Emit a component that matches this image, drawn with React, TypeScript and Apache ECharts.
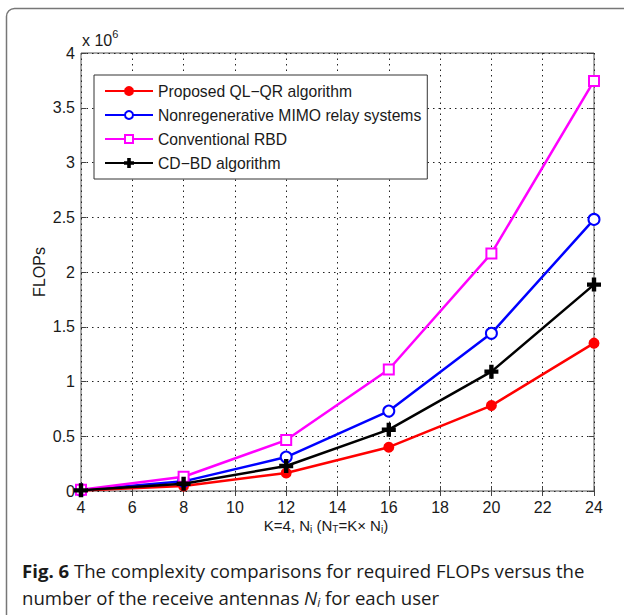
import React, { useEffect, useRef } from "react";
import * as echarts from "echarts";

const nValues = [4, 8, 12, 16, 20, 24];
const qlqr = [0.004, 0.045, 0.165, 0.4, 0.78, 1.35];
const nonregen = [0.008, 0.088, 0.31, 0.73, 1.44, 2.48];
const rbd = [0.012, 0.13, 0.465, 1.11, 2.17, 3.745];
const cdbd = [0.006, 0.066, 0.228, 0.56, 1.09, 1.885];
const seriesNames = [
  "Proposed QL\u2212QR algorithm",
  "Nonregenerative MIMO relay systems",
  "Conventional RBD",
  "CD\u2212BD algorithm",
];
const xTicks = { min: 4, max: 24, interval: 2 };
const yTicks = { min: 0, max: 4, interval: 0.5 };

const FONT = "'Liberation Sans', Arial, sans-serif";
const CAP_FONT = "'Open Sans', 'Noto Sans', sans-serif";
const PLUS =
  "path://M4,0 L6,0 L6,4 L10,4 L10,6 L6,6 L6,10 L4,10 L4,6 L0,6 L0,4 L4,4 Z";

export default function App() {
  const ref = useRef<HTMLDivElement>(null);
  useEffect(() => {
    document.body.style.margin = "0";
    const chart = echarts.init(ref.current!, null, { renderer: "svg" });
    const mk = (
      name: string,
      data: number[],
      color: string,
      symbol: string,
      size: number
    ) => ({
      name,
      type: "line",
      data: nValues.map((x, i) => [x, data[i]]),
      clip: false,
      symbol,
      symbolSize: size,
      showSymbol: true,
      lineStyle: { color, width: 2.5 },
      itemStyle: { color, borderColor: color, borderWidth: 2 },
      z: 3,
    });
    chart.setOption({
      animation: false,
      backgroundColor: "#fff",
      textStyle: { fontFamily: FONT },
      grid: {
        left: 81,
        top: 53,
        width: 513,
        height: 438,
        show: true,
        borderColor: "#555",
        borderWidth: 1,
        backgroundColor: "transparent",
      },
      legend: {
        left: 94,
        top: 75,
        orient: "vertical",
        padding: [8, 6, 8, 10],
        itemGap: 8,
        itemWidth: 48,
        itemHeight: 10,
        backgroundColor: "#fff",
        borderColor: "#333",
        borderWidth: 1,
        borderRadius: 0,
        selectedMode: false,
        textStyle: { fontFamily: FONT, fontSize: 15.7, color: "#1a1a1a" },
        data: seriesNames,
      },
      xAxis: [
        {
          type: "value",
          ...xTicks,
          axisLine: { show: false },
          axisTick: { show: true, inside: true, length: 5, lineStyle: { color: "#444" } },
          axisLabel: { fontFamily: FONT, fontSize: 16, color: "#1a1a1a", margin: 8 },
          splitLine: {
            show: true,
            lineStyle: { color: "#222", width: 1, type: [1.5, 4] },
          },
        },
        {
          type: "value",
          position: "top",
          ...xTicks,
          axisLine: { show: false },
          axisTick: { show: true, inside: true, length: 5, lineStyle: { color: "#444" } },
          axisLabel: { show: false },
          splitLine: { show: false },
        },
      ],
      yAxis: [
        {
          type: "value",
          ...yTicks,
          axisLine: { show: false },
          axisTick: { show: true, inside: true, length: 5, lineStyle: { color: "#444" } },
          axisLabel: {
            fontFamily: FONT,
            fontSize: 16,
            color: "#1a1a1a",
            margin: 6,
            formatter: (v: number) => String(v),
          },
          splitLine: {
            show: true,
            lineStyle: { color: "#222", width: 1, type: [1.5, 4] },
          },
        },
        {
          type: "value",
          position: "right",
          ...yTicks,
          axisLine: { show: false },
          axisTick: { show: true, inside: true, length: 5, lineStyle: { color: "#444" } },
          axisLabel: { show: false },
          splitLine: { show: false },
        },
      ],
      series: [
        mk(seriesNames[0], qlqr, "#ff0000", "circle", 9),
        mk(seriesNames[1], nonregen, "#0000ff", "emptyCircle", 11),
        mk(seriesNames[2], rbd, "#ff00ff", "emptyRect", 10),
        mk(seriesNames[3], cdbd, "#000000", PLUS, 12),
      ],
      graphic: [
        {
          type: "rect",
          silent: true,
          z: -10,
          shape: { x: 6.5, y: 8.5, width: 800, height: 800, r: 8 },
          style: { fill: "none", stroke: "#777", lineWidth: 1.5 },
        },
        {
          type: "text",
          x: 39,
          y: 272,
          rotation: Math.PI / 2,
          style: {
            text: "FLOPs",
            align: "center",
            verticalAlign: "middle",
            fontFamily: FONT,
            fontSize: 16,
            fill: "#1a1a1a",
          },
        },
        {
          type: "text",
          left: 82,
          top: 28,
          style: {
            text: "{a|x 10}{s|6}",
            rich: {
              a: { fontFamily: FONT, fontSize: 16, lineHeight: 24, fill: "#1a1a1a" },
              s: {
                fontFamily: FONT,
                fontSize: 11,
                lineHeight: 6,
                verticalAlign: "top",
                fill: "#1a1a1a",
              },
            },
          },
        },
        {
          type: "text",
          x: 326,
          y: 525,
          style: {
            text: "{a|K=4, N}{s|i}{a| (N}{s|T}{a|=K\u00d7 N}{s|i}{a|)}",
            align: "center",
            verticalAlign: "middle",
            rich: {
              a: { fontFamily: FONT, fontSize: 15, lineHeight: 18, fill: "#1a1a1a" },
              s: {
                fontFamily: FONT,
                fontSize: 10,
                lineHeight: 4,
                verticalAlign: "bottom",
                fill: "#1a1a1a",
              },
            },
          },
        },
        {
          type: "text",
          x: 22,
          y: 570,
          style: {
            text:
              "{b|Fig. 6}{a| The complexity comparisons for required FLOPs versus the}",
            verticalAlign: "middle",
            rich: {
              a: { fontFamily: CAP_FONT, fontSize: 18.6, fill: "#1a1a1a" },
              b: { fontFamily: CAP_FONT, fontSize: 18.6, fontWeight: "bold", fill: "#1a1a1a" },
            },
          },
        },
        {
          type: "text",
          x: 22,
          y: 597,
          style: {
            text:
              "{a|number of the receive antennas }{i|N}{s|i}{a| for each user}",
            verticalAlign: "middle",
            rich: {
              a: { fontFamily: CAP_FONT, fontSize: 18.6, lineHeight: 22, fill: "#1a1a1a" },
              i: {
                fontFamily: CAP_FONT,
                fontSize: 18.6,
                lineHeight: 22,
                fontStyle: "italic",
                fill: "#1a1a1a",
              },
              s: {
                fontFamily: CAP_FONT,
                fontSize: 12,
                lineHeight: 6,
                fontStyle: "italic",
                verticalAlign: "bottom",
                fill: "#1a1a1a",
              },
            },
          },
        },
      ],
    });
    return () => chart.dispose();
  }, []);
  return <div ref={ref} style={{ width: 624, height: 615 }} />;
}
